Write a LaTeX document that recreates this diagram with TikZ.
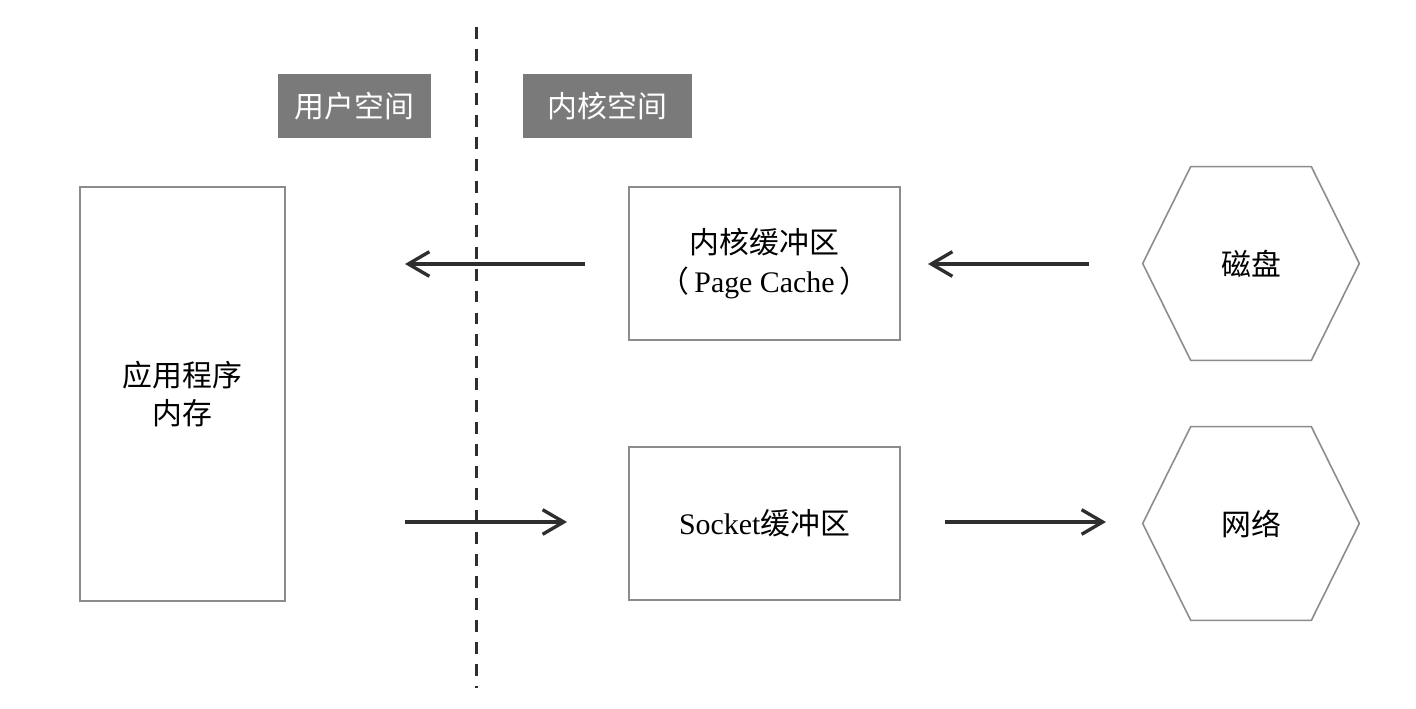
\documentclass[tikz,border=0pt]{standalone}
\usepackage{fontspec}
\setmainfont{Liberation Serif}
\newfontfamily\cjk{Noto Sans CJK SC}
\usetikzlibrary{arrows.meta,shapes.geometric}
\definecolor{linec}{HTML}{2E2E2E}
\definecolor{boxc}{HTML}{8C8C8C}
\definecolor{tagc}{HTML}{7A7A7A}
\tikzset{
  txt/.style={font=\fontsize{17}{22}\selectfont\cjk, text=black, align=center},
  boxnode/.style={draw=boxc, line width=0.9pt, fill=white, txt, inner sep=0pt},
  tagnode/.style={fill=tagc, text=white, font=\fontsize{17}{22}\selectfont\cjk, inner sep=0pt, minimum height=1.28cm},
  hexnode/.style={txt, inner sep=0pt, minimum width=4.32cm, minimum height=3.86cm},
  hexline/.style={draw=boxc, line width=0.9pt},
  flow/.style={draw=linec, line width=1.9pt, -{Straight Barb[length=12pt,width=14pt,line width=1.9pt]}},
  divider/.style={draw=linec, line width=1.7pt, dash pattern=on 6.8pt off 5.7pt},
}
\begin{document}
\begin{tikzpicture}[x=0.02cm,y=-0.02cm]
\useasboundingbox (0,0) rectangle (1416,709);
\fill[white] (0,0) rectangle (1416,709);
% divider
\coordinate (dtop) at (476,27);
\coordinate (dbot) at (476,688);
\draw[divider] (dtop) -- (dbot);
% tags
\node[tagnode, minimum width=3.06cm] (user) at (354.5,106) {用户空间};
\node[tagnode, minimum width=3.38cm] (kernel) at (607.5,106) {内核空间};
% boxes
\node[boxnode, minimum width=4.1cm, minimum height=8.28cm] (app) at (182.5,394) {应用程序\\内存};
\node[boxnode, minimum width=5.42cm, minimum height=3.06cm] (pc) at (764.5,263.5) {内核缓冲区\\（\,{\fontspec{Liberation Serif}Page Cache}\,）};
\node[boxnode, minimum width=5.42cm, minimum height=3.06cm] (sock) at (764.5,523.5) {{\fontspec{Liberation Serif}Socket}缓冲区};
\node[hexnode] (disk) at (1251,263.5) {磁盘};
\node[hexnode] (net) at (1251,523.5) {网络};
\foreach \h in {disk,net}{
  \draw[hexline] (\h.west) -- ([xshift=0.96cm]\h.north west) -- ([xshift=-0.96cm]\h.north east)
     -- (\h.east) -- ([xshift=-0.96cm]\h.south east) -- ([xshift=0.96cm]\h.south west) -- cycle;
}
% arrow ends
\coordinate (a1s) at (585,264);
\coordinate (a1e) at (405,264);
\coordinate (a2s) at (1089,264);
\coordinate (a2e) at (928,264);
\coordinate (a3s) at (405,522);
\coordinate (a3e) at (567,522);
\coordinate (a4s) at (945,522);
\coordinate (a4e) at (1106,522);
\draw[flow] (a1s) -- (a1e);
\draw[flow] (a2s) -- (a2e);
\draw[flow] (a3s) -- (a3e);
\draw[flow] (a4s) -- (a4e);
\end{tikzpicture}
\end{document}
